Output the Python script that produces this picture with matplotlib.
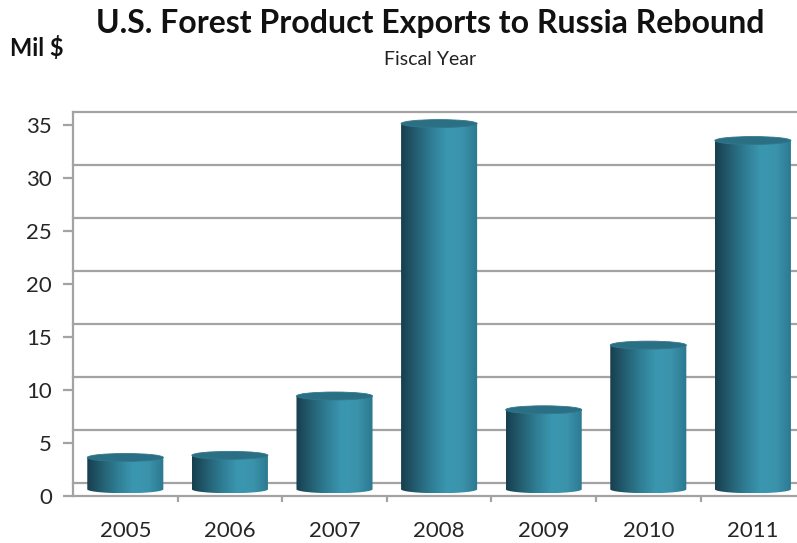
import matplotlib

matplotlib.use('Agg')
import matplotlib.pyplot as plt
import numpy as np
from matplotlib.patches import Ellipse, PathPatch
from matplotlib.path import Path
from matplotlib.colors import LinearSegmentedColormap

# Данные: экспорт лесной продукции США в Россию, млн $
years = ['2005', '2006', '2007', '2008', '2009', '2010', '2011']
exports = [3.0, 3.2, 8.8, 34.5, 7.5, 13.6, 32.9]
y_ticks = [0, 5, 10, 15, 20, 25, 30, 35]

W, H = 797, 543
plt.rcParams['font.family'] = ['Lato', 'DejaVu Sans']

fig = plt.figure(figsize=(W / 100, H / 100), dpi=100)
ax = fig.add_axes([73 / W, (H - 496) / H, (W - 73) / W, (496 - 108) / H])

depth = 1.27      # сдвиг задней стенки (в единицах оси)
bar_w = 0.727     # ширина цилиндра
ell_h = 0.75      # высота эллипса крышки
grid_col = '#a3a3a3'

# Сетка на задней стенке
for v in y_ticks:
    ax.axhline(v + depth, color=grid_col, lw=1.6, zorder=1, clip_on=False)

# Градиент боковой поверхности цилиндра
side_cmap = LinearSegmentedColormap.from_list(
    'side', ['#173f4e', '#245f72', '#2f7e95', '#3b97b0', '#3a93ab', '#2c7890'])
grad = np.linspace(0, 1, 256).reshape(1, -1)

for i, v in enumerate(exports):
    x0, x1 = i - bar_w / 2, i + bar_w / 2
    yb = depth / 2
    yt = v + depth / 2
    t = np.linspace(np.pi, 2 * np.pi, 60)
    bx = i + bar_w / 2 * np.cos(t)
    by = yb + ell_h / 2 * np.sin(t)
    verts = list(zip(bx, by)) + [(x1, yt), (x0, yt), (x0, yb)]
    codes = [Path.MOVETO] + [Path.LINETO] * (len(verts) - 2) + [Path.CLOSEPOLY]
    body = PathPatch(Path(verts, codes), facecolor='none', edgecolor='none', zorder=3)
    ax.add_patch(body)
    img = ax.imshow(grad, extent=[x0, x1, yb - ell_h / 2, yt], aspect='auto',
                    cmap=side_cmap, zorder=3, interpolation='bilinear')
    img.set_clip_path(body)
    top = Ellipse((i, yt), bar_w, ell_h, facecolor='#2b6f84',
                  edgecolor='#31788d', lw=0.6, zorder=4)
    ax.add_patch(top)

ax.set_xlim(-0.5, -0.5 + (W - 73) / 104.6)
ax.set_ylim(0, (496 - 108) / 10.6)

for s in ['top', 'right']:
    ax.spines[s].set_visible(False)
ax.spines['left'].set_color(grid_col)
ax.spines['left'].set_linewidth(1.6)
ax.spines['left'].set_bounds(0, 35 + depth)
ax.spines['bottom'].set_color(grid_col)
ax.spines['bottom'].set_linewidth(1.6)

ax.set_yticks(y_ticks)
ax.tick_params(axis='y', length=7, width=1.6, color=grid_col, pad=8,
               labelsize=16, labelcolor='#262626')
ax.set_xticks(range(len(years)))
ax.set_xticklabels(years)
ax.set_xticks(np.arange(0.5, len(years) - 1, 1), minor=True)
ax.tick_params(axis='x', which='major', length=0, pad=18, labelsize=16,
               labelcolor='#262626')
ax.tick_params(axis='x', which='minor', length=4.5, width=1.6, color=grid_col)

fig.text(430 / W, 1 - 23 / H, 'U.S. Forest Product Exports to Russia Rebound',
         ha='center', va='center', fontsize=23, fontweight='bold', color='#111111')
fig.text(430 / W, 1 - 60 / H, 'Fiscal Year', ha='center', va='center',
         fontsize=14, color='#222222')
fig.text(10 / W, 1 - 48 / H, 'Mil $', ha='left', va='center',
         fontsize=17, fontweight='bold', color='#111111')

fig.savefig('out.png', dpi=100)
